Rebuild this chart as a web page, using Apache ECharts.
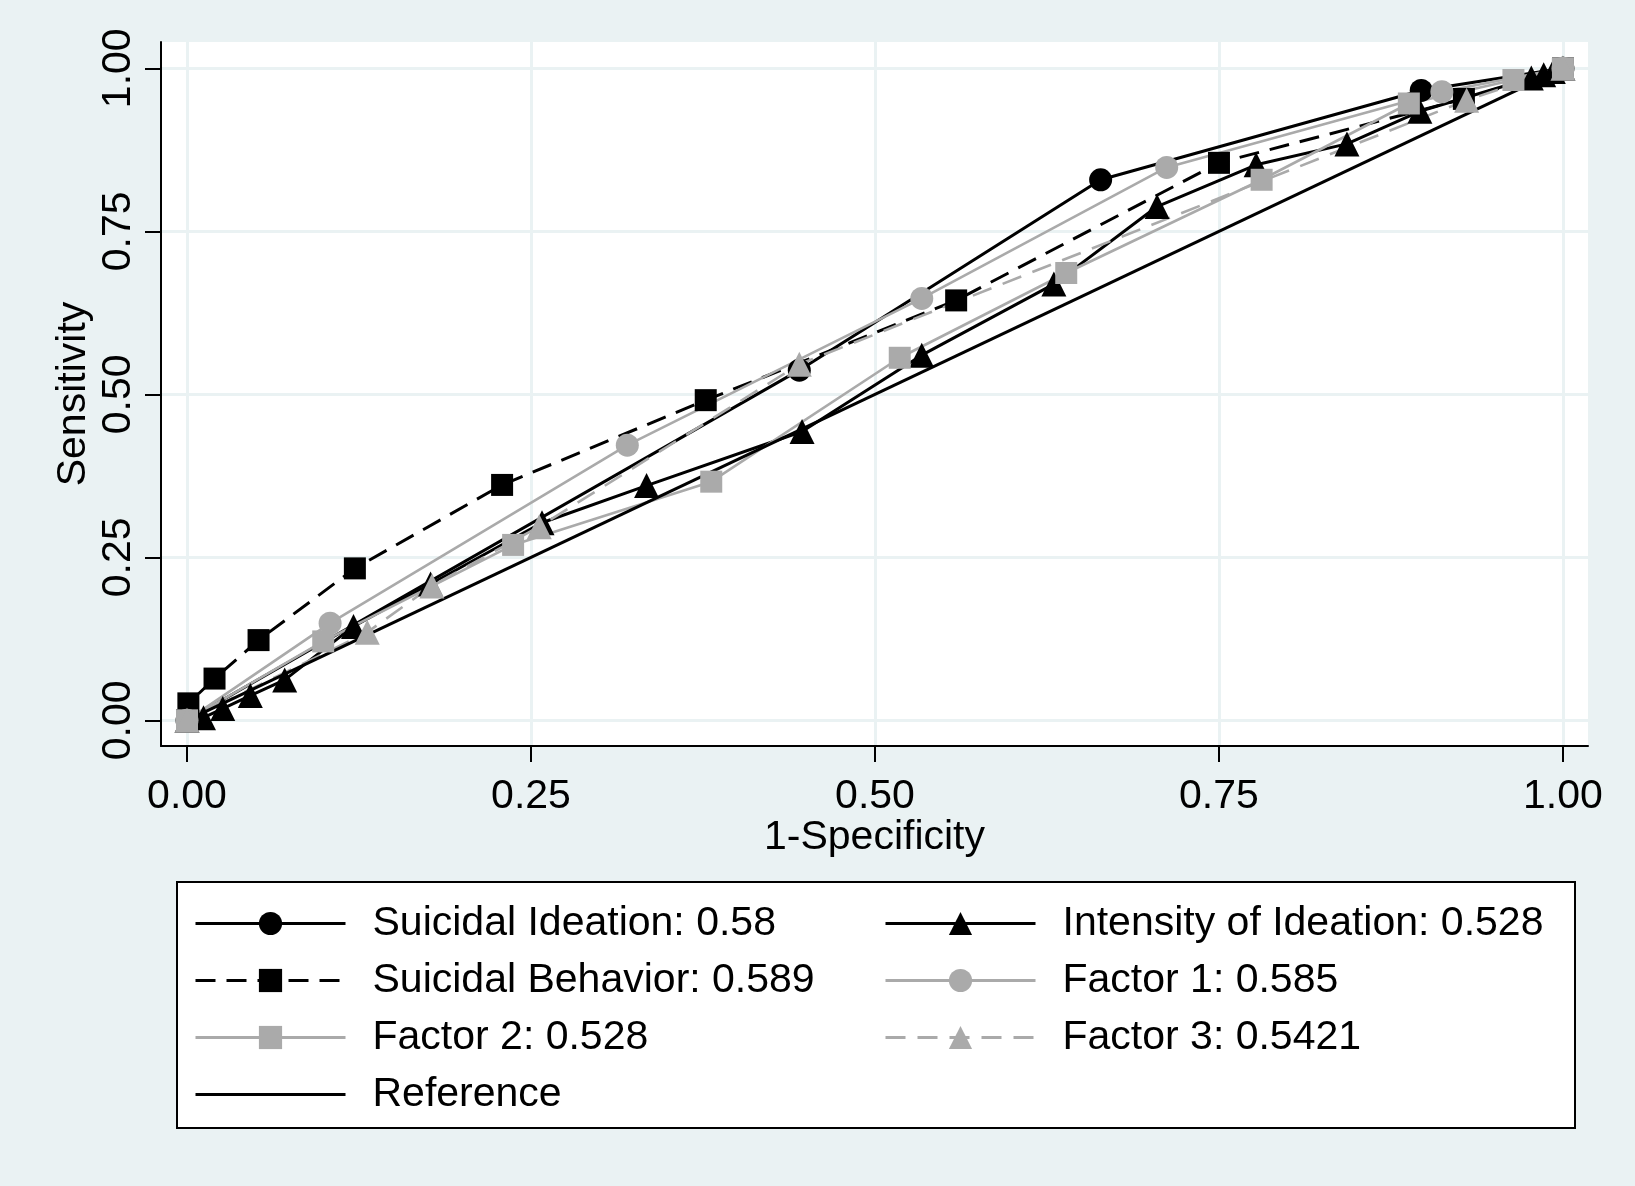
<!DOCTYPE html>
<html>
<head>
<meta charset="utf-8">
<script src="https://cdn.jsdelivr.net/npm/echarts@6/dist/echarts.min.js"></script>
<style>
html,body{margin:0;padding:0;background:#EAF2F3;}
#chart{width:1635px;height:1186px;}
</style>
</head>
<body>
<div id="chart"></div>
<script>
// ---- data ----
const tickValues = [0, 0.25, 0.5, 0.75, 1];

const siName = 'Suicidal Ideation: 0.58';
const siX = [0, 0.445, 0.664, 0.897, 1];
const siY = [0, 0.537, 0.829, 0.966, 1];

const iiName = 'Intensity of Ideation: 0.528';
const iiX = [0, 0.012, 0.026, 0.046, 0.071, 0.121, 0.177, 0.258, 0.334, 0.447, 0.534, 0.630, 0.705, 0.777, 0.843, 0.896, 0.977, 0.986, 0.993, 1];
const iiY = [0, 0.004, 0.018, 0.038, 0.062, 0.144, 0.209, 0.303, 0.360, 0.443, 0.560, 0.669, 0.788, 0.852, 0.884, 0.934, 0.985, 0.990, 0.995, 1];

const sbName = 'Suicidal Behavior: 0.589';
const sbX = [0, 0.001, 0.020, 0.052, 0.122, 0.229, 0.377, 0.559, 0.750, 0.928, 1];
const sbY = [0, 0.026, 0.064, 0.123, 0.233, 0.361, 0.491, 0.644, 0.855, 0.953, 1];

const f1Name = 'Factor 1: 0.585';
const f1X = [0, 0.104, 0.320, 0.534, 0.712, 0.912, 1];
const f1Y = [0, 0.149, 0.422, 0.647, 0.848, 0.964, 1];

const f2Name = 'Factor 2: 0.528';
const f2X = [0, 0.099, 0.237, 0.381, 0.518, 0.639, 0.781, 0.888, 0.964, 1];
const f2Y = [0, 0.121, 0.269, 0.366, 0.556, 0.686, 0.829, 0.946, 0.982, 1];

const f3Name = 'Factor 3: 0.5421';
const f3X = [0, 0.131, 0.178, 0.256, 0.445, 0.930, 1];
const f3Y = [0, 0.135, 0.206, 0.297, 0.546, 0.951, 1];

const refName = 'Reference';
const refX = [0, 1];
const refY = [0, 1];

// ---- build ----
const pairs = (xs, ys) => xs.map((v, i) => [v, ys[i]]);
const BLACK = '#000000';
const GREY = '#aaaaaa';
const FONT = 'Liberation Sans, Arial, sans-serif';

function mk(name, xs, ys, color, symbol, size, width, dash) {
  return {
    name: name,
    type: 'line',
    data: pairs(xs, ys),
    symbol: symbol,
    symbolSize: size,
    showSymbol: symbol !== 'none',
    lineStyle: { color: color, width: width, type: dash || 'solid' },
    itemStyle: { color: color },
    emphasis: { disabled: true },
    animation: false,
    z: 2
  };
}

const series = [
  mk(siName, siX, siY, BLACK, 'circle', 23, 3),
  mk(iiName, iiX, iiY, BLACK, 'triangle', 25, 3),
  mk(sbName, sbX, sbY, BLACK, 'rect', 22, 3, [20, 11]),
  mk(f1Name, f1X, f1Y, GREY, 'circle', 23, 2.6),
  mk(f2Name, f2X, f2Y, GREY, 'rect', 22, 2.6),
  mk(f3Name, f3X, f3Y, GREY, 'triangle', 25, 2.6, [20, 12]),
  mk(refName, refX, refY, BLACK, 'none', 0, 3)
];

const legendCommon = {
  orient: 'vertical',
  itemWidth: 150,
  itemHeight: 29,
  itemGap: 0,
  padding: 0,
  selectedMode: false,
  lineStyle: { width: 3 },
  textStyle: {
    fontFamily: FONT,
    fontSize: 41,
    color: '#000',
    lineHeight: 57,
    padding: [0, 0, 0, 22]
  }
};

const option = {
  backgroundColor: '#EAF2F3',
  animation: false,
  grid: {
    left: 161, top: 42, right: 47, bottom: 440,
    show: true, backgroundColor: '#ffffff', borderWidth: 0
  },
  xAxis: {
    type: 'value',
    min: -0.0189, max: 1.0182,
    name: '1-Specificity',
    nameLocation: 'middle',
    nameGap: 71,
    nameMoveOverlap: false,
    nameTextStyle: { fontFamily: FONT, fontSize: 41, color: '#000' },
    axisLine: { show: true, onZero: false, lineStyle: { color: '#000', width: 2 } },
    axisTick: { show: true, length: 16, customValues: tickValues, lineStyle: { color: '#000', width: 2 } },
    axisLabel: {
      customValues: tickValues, margin: 30,
      fontFamily: FONT, fontSize: 41, color: '#000',
      formatter: v => v.toFixed(2)
    },
    splitLine: { show: true, lineStyle: { color: '#EAF2F3', width: 3 } }
  },
  yAxis: {
    type: 'value',
    min: -0.0394, max: 1.0403,
    name: 'Sensitivity',
    nameLocation: 'middle',
    nameGap: 67,
    nameMoveOverlap: false,
    nameTextStyle: { fontFamily: FONT, fontSize: 41, color: '#000' },
    axisLine: { show: true, onZero: false, lineStyle: { color: '#000', width: 2 } },
    axisTick: { show: true, length: 16, customValues: tickValues, lineStyle: { color: '#000', width: 2 } },
    axisLabel: {
      customValues: tickValues, margin: 22, rotate: 90,
      fontFamily: FONT, fontSize: 41, color: '#000',
      formatter: v => v.toFixed(2)
    },
    splitLine: { show: true, lineStyle: { color: '#EAF2F3', width: 3 } }
  },
  legend: [
    Object.assign({}, legendCommon, { left: 194, top: 895, data: [siName, sbName, f2Name, { name: refName, itemStyle: { opacity: 0 } }] }),
    Object.assign({}, legendCommon, { left: 884, top: 895, data: [iiName, f1Name, f3Name] })
  ],
  graphic: [{
    type: 'rect',
    shape: { x: 177, y: 882, width: 1398, height: 246 },
    style: { fill: '#ffffff', stroke: '#000000', lineWidth: 2 },
    z: -1
  }],
  series: series
};

const chart = echarts.init(document.getElementById('chart'), null, { renderer: 'canvas' });
chart.setOption(option);
</script>
</body>
</html>
